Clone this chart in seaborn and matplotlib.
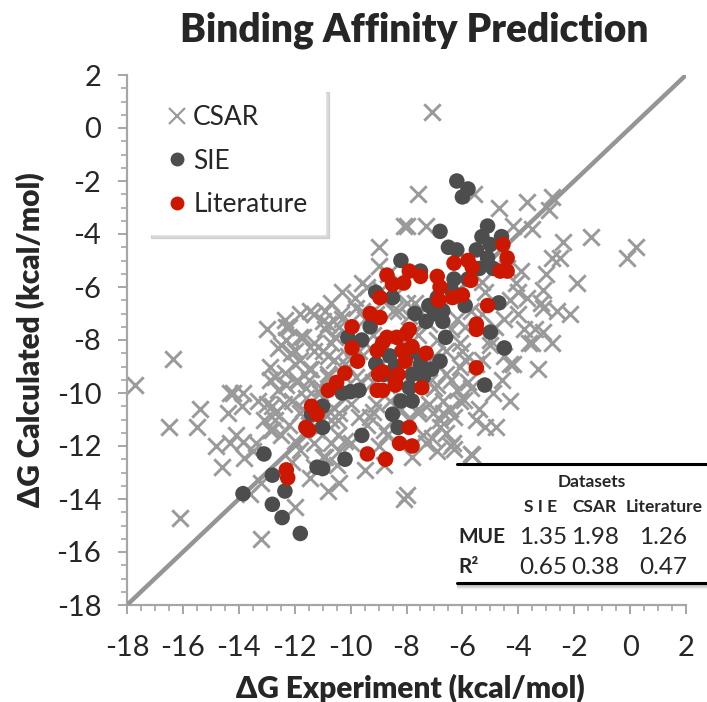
import matplotlib
matplotlib.use("Agg")
import matplotlib.pyplot as plt
from matplotlib.lines import Line2D
from matplotlib.patches import Rectangle
import seaborn as sns
import pandas as pd

# ---------------- data (kcal/mol) ----------------
csar_x = [-7.1, -5.6, -4.7, -3.7, -2.8, -2.9, -7.6, -8.0, -7.3, -4.2, -3.5, -2.4, -1.4, 0.2, -0.1,
          -2.8, -2.5, -3.0, -1.9, -3.1, -3.2, -4.1, -4.0, -3.7, -3.1, -2.15, -2.6, -3.4, -3.1, -3.5,
          -2.8, -4.2, -3.3, -8.1, -9.0, -9.6, -10.3, -10.7, -11.45, -10.9, -13.0, -12.2, -12.3, -11.7,
          -16.35, -17.7, -12.9, -14.2, -16.5, -15.5, -15.4, -16.1, -14.8, -14.4, -14.3, -13.85, -13.9,
          -14.3, -13.85, -13.8, -14.1, -13.0, -12.7, -13.1, -12.9, -12.5, -13.2, -13.6, -12.0, -13.2,
          -11.45, -10.8, -10.4, -11.3, -11.8, -10.7, -10.2, -11.8, -10.7, -10.4, -9.7, -9.2, -8.1,
          -11.5, -5.8, -6.9, -6.7, -6.1, -5.95, -7.05, -6.7, -6.45, -7.6, -6.8, -7.1, -6.3, -6.35,
          -5.65, -7.8, -8.0, -12.3, -11.8, -12.15, -11.8, -11.3, -10.7, -10.9, -10.4, -10.6, -11.4,
          -11.9, -12.8, -12.4, -12.2, -12.8, -12.0, -11.3, -10.45, -10.0, -10.45, -10.0, -10.4, -9.3,
          -9.1, -8.8, -7.6, -7.2, -6.8, -7.4, -6.9, -6.4, -6.3, -6.2, -5.7, -7.0, -6.4, -5.9, -5.3,
          -6.1, -6.4, -5.9, -4.85, -4.3, -3.6, -5.7, -5.2, -4.8, -8.6, -12.35, -11.3, -10.8, -10.35,
          -9.85, -9.6, -9.4, -8.65, -8.3, -12.0, -11.3, -10.8, -10.55, -10.2, -11.5, -10.8, -12.35,
          -12.7, -11.9, -11.05, -8.9, -9.1, -8.8, -7.2, -6.9, -7.7, -7.9, -8.3, -5.2, -5.7, -4.3,
          -4.5, -5.3, -6.6, -5.0, -4.0, -3.8, -4.4, -5.3, -3.9, -6.2, -7.6, -4.6, -4.9, -5.4, -4.3,
          -9.4, -8.8, -8.5, -9.0, -9.8, -9.3, -8.0, -7.5, -7.0, -8.4, -9.9, -10.1, -11.1, -11.6,
          -12.6, -13.4, -12.1, -10.9, -9.5, -8.7, -7.3, -6.6, -5.5, -9.2, -8.2, -10.6, -11.0, -9.0,
          -12.5, -12.0, -11.6, -11.0, -10.3, -9.7, -9.2, -12.9, -12.3, -11.7, -11.2, -10.8, -10.1,
          -9.5, -8.9, -13.3, -12.7, -12.1, -11.5, -11.0, -10.5, -6.0, -5.5, -5.0, -4.5, -7.7, -7.2,
          -6.6, -6.1, -8.2, -7.9, -9.8, -10.3, -11.0, -11.8, -12.6, -13.5, -14.6, -8.5, -6.9]
csar_y = [0.6, -2.5, -3.0, -2.8, -2.6, -3.1, -2.5, -3.7, -3.7, -3.7, -3.8, -4.3, -4.1, -4.5, -4.9,
          -4.9, -4.9, -5.5, -5.85, -6.1, -6.6, -5.85, -6.2, -6.4, -6.8, -7.0, -6.9, -7.6, -7.7, -8.1,
          -8.1, -8.9, -9.1, -3.7, -4.5, -5.85, -6.2, -6.6, -6.9, -6.9, -7.6, -7.5, -8.0, -7.9,
          -8.7, -9.7, -9.5, -10.0, -11.3, -11.3, -10.6, -14.7, -12.0, -10.75, -10.0, -10.0, -10.5,
          -11.9, -11.85, -12.45, -11.6, -10.4, -10.75, -11.0, -11.4, -11.6, -13.4, -13.8, -14.3, -15.5,
          -13.2, -13.7, -13.4, -12.8, -12.15, -11.9, -11.8, -10.75, -11.0, -10.75, -10.9, -10.7, -14.0,
          -9.5, -9.6, -9.7, -10.3, -10.3, -10.25, -10.75, -10.75, -10.6, -10.75, -11.3, -11.7, -12.1, -11.9,
          -12.35, -12.4, -13.85, -7.5, -7.9, -8.5, -8.75, -8.4, -8.1, -7.6, -7.5, -8.75, -9.1,
          -9.5, -10.5, -10.4, -11.2, -11.4, -11.8, -11.9, -11.0, -10.4, -11.6, -11.9, -12.2, -10.9,
          -10.4, -11.4, -10.6, -10.4, -11.0, -11.6, -12.2, -12.0, -10.9, -9.9, -9.8, -9.8, -9.5, -8.75, -8.75,
          -8.1, -7.6, -7.5, -7.5, -8.9, -8.1, -12.3, -11.3, -11.3, -10.3, -7.25, -7.0, -7.4, -7.0,
          -6.4, -6.9, -6.0, -5.5, -5.75, -8.4, -8.1, -8.6, -7.9, -8.9, -9.1, -9.4, -9.25,
          -9.4, -9.6, -9.8, -6.1, -7.0, -6.5, -7.4, -8.0, -6.6, -7.1, -6.9, -6.2, -6.9, -6.5,
          -7.2, -7.0, -8.4, -8.2, -7.0, -7.6, -5.3, -5.8, -5.4, -7.2, -7.8, -9.5, -10.0, -10.6, -10.3,
          -11.2, -12.7, -11.0, -12.0, -9.4, -8.3, -6.6, -6.9, -8.6, -6.3, -8.3, -9.0, -10.0, -10.2,
          -9.9, -11.9, -12.6, -12.4, -12.9, -11.6, -11.9, -11.5, -11.0, -9.6, -9.7, -9.9, -8.4, -5.2,
          -8.2, -8.9, -9.8, -10.2, -9.3, -8.4, -7.8, -9.0, -9.7, -10.6, -11.4, -9.3, -8.6,
          -7.2, -8.1, -10.3, -11.0, -10.3, -11.2, -12.4, -12.7, -8.4, -8.9, -8.0, -8.6, -9.1, -9.6,
          -9.3, -9.0, -10.6, -11.0, -6.8, -7.2, -7.3, -7.0, -8.3, -12.2, -12.8, -6.9, -8.9]

sie_x = [-6.2, -5.8, -6.0, -6.8, -5.1, -6.5, -6.2, -5.3, -4.6, -5.5, -5.0, -5.1, -8.2, -7.5, -5.4,
         -4.9, -6.3, -5.8, -9.1, -8.5, -7.2, -6.7, -5.9, -4.7, -7.3, -6.7, -6.6, -5.0, -4.5, -7.5,
         -6.8, -7.1, -7.8, -5.2, -9.3, -10.1, -9.6, -9.1, -8.6, -8.8, -8.0, -7.5, -7.4, -10.3, -10.0,
         -9.7, -7.9, -8.2, -7.8, -11.0, -11.4, -11.0, -8.5, -8.3, -9.6, -13.1, -10.2, -11.2, -11.0,
         -12.8, -13.85, -12.35, -12.8, -12.45, -11.8, -6.9, -7.0, -6.4, -7.7, -8.4]
sie_y = [-2.0, -2.3, -2.6, -3.9, -3.7, -4.5, -4.6, -4.1, -4.1, -4.6, -4.4, -4.9, -5.0, -5.4, -5.3,
         -5.3, -5.7, -5.7, -6.2, -6.4, -6.7, -6.9, -6.7, -6.6, -7.3, -7.3, -7.9, -7.7, -8.3, -8.6,
         -8.8, -9.1, -9.3, -9.7, -7.5, -7.9, -8.0, -8.9, -8.6, -9.3, -8.6, -8.9, -9.4, -10.0, -9.95,
         -9.9, -9.8, -10.3, -10.3, -10.5, -10.8, -11.3, -10.8, -11.3, -11.6, -12.3, -12.5, -12.8, -12.85,
         -13.1, -13.8, -13.7, -14.2, -14.7, -15.3, -6.4, -7.0, -6.1, -7.0, -9.0]

lit_x = [-8.7, -8.5, -8.1, -7.9, -7.5, -6.9, -6.8, -6.85, -6.35, -6.0, -6.3, -5.8, -5.65, -5.7,
         -8.95, -5.1, -4.55, -4.4, -4.65, -4.4, -9.3, -8.95, -5.5, -5.5, -5.5, -9.95, -9.95, -9.75,
         -9.05, -8.7, -8.85, -8.35, -8.0, -7.9, -8.15, -7.8, -8.05, -7.3, -9.0, -8.85, -8.3, -8.4,
         -9.05, -8.85, -7.45, -10.2, -10.5, -10.8, -11.4, -11.2, -11.5, -7.9, -8.25, -7.8, -9.4,
         -8.75, -12.3, -12.25, -11.6, -8.4]
lit_y = [-5.55, -5.9, -5.85, -5.4, -5.6, -5.6, -6.0, -6.5, -6.4, -6.3, -5.1, -5.0, -5.25, -5.75,
         -6.4, -6.7, -4.4, -4.9, -5.4, -5.4, -7.0, -7.15, -7.4, -7.6, -9.05, -7.5, -8.3, -8.8,
         -8.4, -7.9, -8.1, -7.9, -7.75, -7.6, -8.4, -8.25, -8.8, -8.5, -9.3, -9.2, -9.3, -9.6,
         -9.9, -9.9, -9.8, -9.25, -9.6, -9.9, -10.5, -10.8, -11.4, -11.3, -11.9, -12.0, -12.3,
         -12.5, -12.9, -13.2, -11.3, -9.7]

series_names = ["CSAR", "SIE", "Literature"]
table_cols = ["S I E", "CSAR", "Literature"]
table_rows = ["MUE", "R²"]
mue_vals = ["1.35", "1.98", "1.26"]
r2_vals = ["0.65", "0.38", "0.47"]

# ---------------- style ----------------
sns.set_style("white")
plt.rcParams["font.family"] = ["Lato", "DejaVu Sans"]
plt.rcParams["axes.unicode_minus"] = False

W, H = 707, 702
fig = plt.figure(figsize=(W / 100, H / 100), dpi=100)
ax = fig.add_axes([127 / W, 1 - 605 / H, (686 - 127) / W, (605 - 75) / H])

GRAY_X = "#9a9a9a"
DARK = "#4d4d4d"
RED = "#cc1800"

df_c = pd.DataFrame({"x": csar_x, "y": csar_y})
df_s = pd.DataFrame({"x": sie_x, "y": sie_y})
df_l = pd.DataFrame({"x": lit_x, "y": lit_y})

sns.scatterplot(data=df_c, x="x", y="y", marker="x", s=140, color=GRAY_X,
                linewidth=2.1, ax=ax, zorder=2)
ax.plot([-18, 2], [-18, 2], color="#959595", lw=3.2, zorder=3, solid_capstyle="butt")
sns.scatterplot(data=df_s, x="x", y="y", marker="o", s=125, color=DARK,
                edgecolor="none", ax=ax, zorder=4)
sns.scatterplot(data=df_l, x="x", y="y", marker="o", s=125, color=RED,
                edgecolor="none", ax=ax, zorder=5)

ax.set_xlim(-18, 2)
ax.set_ylim(-18, 2)
ax.set_xticks(range(-18, 3, 2))
ax.set_yticks(range(-18, 3, 2))
ax.set_xticks([v / 2 for v in range(-36, 5)], minor=True)
ax.set_yticks([v / 2 for v in range(-36, 5)], minor=True)
for sp in ["top", "right"]:
    ax.spines[sp].set_visible(False)
for sp in ["left", "bottom"]:
    ax.spines[sp].set_color("#a6a6a6")
    ax.spines[sp].set_linewidth(1.6)
ax.tick_params(axis="both", which="major", direction="out", length=6.5, width=1.4,
               color="#a6a6a6", labelsize=21, left=True, bottom=True)
ax.tick_params(axis="x", which="major", pad=15)
ax.tick_params(axis="y", which="major", pad=12)
ax.tick_params(which="minor", direction="out", length=4.2, width=1.2, color="#a6a6a6",
               left=True, bottom=True)

ax.set_xlabel("ΔG Experiment (kcal/mol)", fontsize=21.5, fontweight="heavy", va="center")
ax.set_ylabel("ΔG Calculated (kcal/mol)", fontsize=21.5, fontweight="heavy", va="center")
ax.xaxis.set_label_coords((410 - 127) / 559, (605 - 688) / 530)
ax.yaxis.set_label_coords((30 - 127) / 559, 0.5)

fig.text(414 / W, 1 - 30 / H, "Binding Affinity Prediction", fontsize=28,
         fontweight="heavy", ha="center", va="center")

# legend
handles = [
    Line2D([], [], ls="none", marker="x", ms=11, mew=1.6, color=GRAY_X),
    Line2D([], [], ls="none", marker="o", ms=10, color=DARK, mec="none"),
    Line2D([], [], ls="none", marker="o", ms=10, color=RED, mec="none"),
]
leg = ax.legend(handles, series_names, loc="upper left",
                bbox_to_anchor=((147 - 127) / 559, (605 - 88) / 530), borderaxespad=0,
                fontsize=19, frameon=True, fancybox=False, framealpha=1,
                edgecolor="white", labelspacing=0.7, handletextpad=0.1,
                handlelength=1.0, borderpad=0.65,
                shadow={"ox": 3, "oy": -3, "color": "0.6", "alpha": 0.35})
leg.set_zorder(10)

# results table (figure pixel coordinates)
def fx(px):
    return px / W

def fy(py):
    return 1 - py / H

tbl_bg = Rectangle((fx(457), fy(584)), fx(707) - fx(457), fy(463) - fy(584),
                   transform=fig.transFigure, facecolor="white", edgecolor="none", zorder=20)
fig.patches.append(tbl_bg)
for i, a in enumerate([0.35, 0.25, 0.15, 0.08]):
    fig.lines.append(Line2D([fx(457), fx(707)], [fy(585 + i), fy(585 + i)],
                            transform=fig.transFigure, color="0.4", alpha=a, lw=1, zorder=20))
for yy in (463.5, 582.5):
    fig.lines.append(Line2D([fx(457), fx(707)], [fy(yy), fy(yy)], transform=fig.transFigure,
                            color="black", lw=2.2, zorder=21))

fig.text(fx(592), fy(482), "Datasets", fontsize=12.5, fontweight="bold",
         ha="center", va="center", zorder=22)
col_cx = [541, 594, 664]
for cx, name in zip(col_cx, table_cols):
    fig.text(fx(cx), fy(507), name, fontsize=12.5, fontweight="bold",
             ha="center", va="center", zorder=22)
row_y = [537, 567]
for ry, rname, vals in zip(row_y, table_rows, [mue_vals, r2_vals]):
    fig.text(fx(458), fy(ry), rname, fontsize=15, fontweight="bold",
             ha="left", va="center", zorder=22)
    for cx, v in zip([543, 595, 663], vals):
        fig.text(fx(cx), fy(ry), v, fontsize=17.5, ha="center", va="center", zorder=22)

fig.savefig("out.png", dpi=100)
